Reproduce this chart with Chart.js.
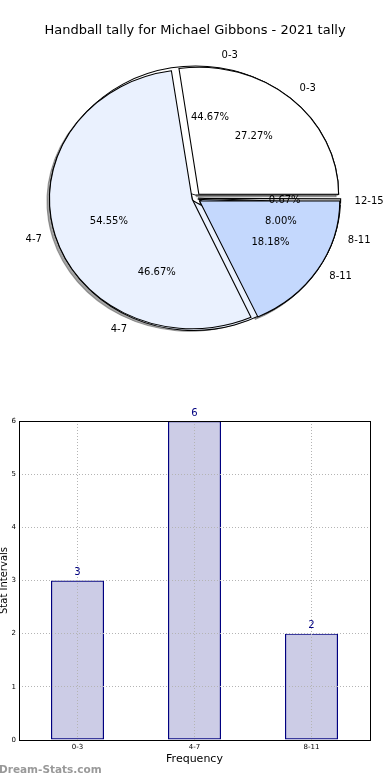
<!DOCTYPE html>
<html>
<head>
<meta charset="utf-8">
<script src="https://cdn.jsdelivr.net/npm/chart.js@4.4.0/dist/chart.umd.min.js"></script>
<style>
  body { margin: 0; background: #fff; }
  #wrap { position: relative; width: 390px; height: 780px; }
  canvas { position: absolute; left: 0; }
</style>
</head>
<body>
<div id="wrap">
  <canvas id="pieBack" width="390" height="360" style="top:0"></canvas>
  <canvas id="pieFront" width="390" height="360" style="top:0"></canvas>
  <canvas id="bars" width="390" height="420" style="top:360px"></canvas>
</div>
<script>
const chartTitle = "Handball tally for Michael Gibbons - 2021 tally";

// first pie, drawn in front
const frontLabels = ["0-3", "4-7", "8-11"];
const frontValues = [3, 6, 2];

// second pie, drawn behind
const backLabels = ["0-3", "4-7", "8-11", "12-15"];
const backValues = [67, 70, 12, 1];

// bar chart
const barLabels = ["0-3", "4-7", "8-11"];
const barValues = [3, 6, 2];
const yMax = 6;

const sliceColors = ["#ffffff", "#eaf1fe", "#c4d8fd", "#c0c0c0"];
const SX = 1.1;        // pie is stretched sideways, like the old plot
const EXPLODE = 5.4;   // px each slice is pushed out

Chart.defaults.font.family = '"DejaVu Sans", sans-serif';
Chart.defaults.color = "#000";

let frontPie = null;
let backPie = null;

// chart.js moves an arc by offset/4 (and more for big slices), undo that
function explodeOffset(values) {
  const total = values.reduce((s, v) => s + v, 0);
  return values.map(v => {
    const circ = v / total * Math.PI * 2;
    const fix = 1 - Math.sin(Math.min(Math.PI, circ));
    return 4 * EXPLODE / (1 + fix);
  });
}

// squash the pie into an ellipse and turn it counter clockwise.
// the back chart also gets the front pie's shadow, under its own slices
const ellipsePlugin = {
  id: "ellipse",
  beforeDatasetsDraw(chart, args, opts) {
    const ctx = chart.ctx;
    const arcs = chart.getDatasetMeta(0).data;
    const cx = arcs[0].x, cy = arcs[0].y;
    ctx.save();
    ctx.translate(cx, cy);
    ctx.scale(SX, -1);
    ctx.translate(-cx, -cy);
    if (opts.shadow && frontPie) {
      ctx.save();
      ctx.shadowColor = "rgba(76,76,76,0.5)";
      ctx.shadowOffsetX = -2.5;
      ctx.shadowOffsetY = 2.5;
      frontPie.getDatasetMeta(0).data.forEach(a => a.draw(ctx));
      ctx.restore();
    }
  },
  afterDatasetsDraw(chart) {
    chart.ctx.restore();
  }
};

function drawSliceTexts(ctx, chart, labels, values) {
  const total = values.reduce((s, v) => s + v, 0);
  ctx.font = '10px "DejaVu Sans"';
  ctx.fillStyle = "#000";
  ctx.textBaseline = "middle";
  chart.getDatasetMeta(0).data.forEach((arc, i) => {
    const mid = (arc.startAngle + arc.endAngle) / 2;
    const circ = arc.endAngle - arc.startAngle;
    const shift = arc.options.offset / 4 * (2 - Math.sin(Math.min(Math.PI, circ)));
    const r = arc.outerRadius;
    const px = k => arc.x + SX * (shift + k * r) * Math.cos(mid);
    const py = k => arc.y - (shift + k * r) * Math.sin(mid);
    ctx.textAlign = "center";
    ctx.fillText((values[i] / total * 100).toFixed(2) + "%", px(0.6), py(0.6));
    ctx.textAlign = Math.cos(mid) > 0 ? "left" : "right";
    ctx.fillText(labels[i], px(1.1), py(1.1));
  });
}

function pieConfig(labels, values, titleColor, plugins, shadow) {
  return {
    type: "pie",
    data: {
      labels: labels,
      datasets: [{
        data: values,
        backgroundColor: sliceColors.slice(0, values.length),
        borderColor: "#000",
        borderWidth: 1,
        borderJoinStyle: "miter",
        offset: explodeOffset(values)
      }]
    },
    options: {
      responsive: false,
      animation: false,
      radius: 127,
      rotation: 90,
      layout: { padding: { bottom: 2 } },
      plugins: {
        legend: { display: false },
        tooltip: { enabled: false },
        title: {
          display: true,
          text: chartTitle,
          color: titleColor,
          font: { size: 13, weight: "normal" },
          padding: { top: 23, bottom: 0 }
        },
        ellipse: { shadow: shadow }
      }
    },
    plugins: plugins
  };
}

const textPlugin = {
  id: "sliceTexts",
  afterDraw(chart) {
    if (backPie) drawSliceTexts(chart.ctx, backPie, backLabels, backValues);
    drawSliceTexts(chart.ctx, chart, frontLabels, frontValues);
  }
};

frontPie = new Chart(document.getElementById("pieFront"),
  pieConfig(frontLabels, frontValues, "#000", [ellipsePlugin, textPlugin], false));

backPie = new Chart(document.getElementById("pieBack"),
  pieConfig(backLabels, backValues, "rgba(0,0,0,0)", [ellipsePlugin], true));

frontPie.draw();

// frame round the plot, numbers over the bars, site name
const barExtras = {
  id: "barExtras",
  afterDraw(chart) {
    const ctx = chart.ctx;
    const a = chart.chartArea;
    ctx.save();
    ctx.strokeStyle = "#000";
    ctx.lineWidth = 1;
    ctx.strokeRect(a.left + 0.5, a.top + 0.5, a.right - a.left, a.bottom - a.top);

    ctx.fillStyle = "#000080";
    ctx.font = '10px "DejaVu Sans"';
    ctx.textAlign = "center";
    ctx.textBaseline = "bottom";
    chart.getDatasetMeta(0).data.forEach((bar, i) => {
      ctx.fillText(String(barValues[i]), bar.x, bar.y - 3);
    });

    ctx.fillStyle = "#999";
    ctx.font = 'bold 10.5px "DejaVu Sans"';
    ctx.textAlign = "left";
    ctx.textBaseline = "middle";
    ctx.fillText("Dream-Stats.com", -1, 410);
    ctx.restore();
  }
};

new Chart(document.getElementById("bars"), {
  type: "bar",
  data: {
    labels: barLabels,
    datasets: [{
      data: barValues,
      backgroundColor: "rgba(0,0,128,0.2)",
      borderColor: "#000080",
      borderWidth: 1.2,
      borderSkipped: false,
      barPercentage: 0.453,
      categoryPercentage: 1
    }]
  },
  options: {
    responsive: false,
    animation: false,
    layout: { padding: { left: 0, right: 20, top: 61, bottom: 0 } },
    plugins: { legend: { display: false }, tooltip: { enabled: false } },
    scales: {
      x: {
        offset: true,
        grid: { offset: false, color: "#b4b4b4", z: 1, drawTicks: false },
        border: { display: false, dash: [1, 2] },
        ticks: { font: { size: 7 }, padding: 3 },
        title: { display: true, text: "Frequency", font: { size: 11 }, padding: { top: 0, bottom: 14 } },
        afterFit: s => { s.height = 40; }
      },
      y: {
        min: 0,
        max: yMax,
        grid: { color: "#b4b4b4", z: 1, drawTicks: false },
        border: { display: false, dash: [1, 2] },
        ticks: { stepSize: 1, font: { size: 7 }, padding: 3 },
        title: { display: true, text: "Stat Intervals", font: { size: 10, lineHeight: 0.8 }, padding: 0 },
        afterFit: s => { s.width = 19; }
      }
    }
  },
  plugins: [barExtras]
});
</script>
</body>
</html>
